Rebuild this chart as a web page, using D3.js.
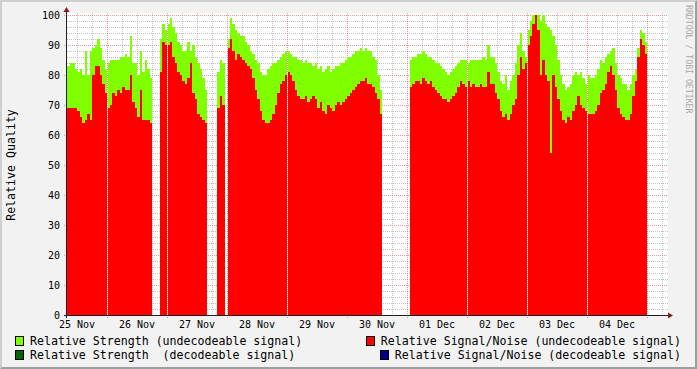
<!DOCTYPE html>
<html>
<head>
<meta charset="utf-8">
<script src="https://cdn.jsdelivr.net/npm/d3@7"></script>
<style>
body { margin: 0; background: #f2f2f2; }
svg { display: block; }
text { font-family: "DejaVu Sans Mono", monospace; white-space: pre; }
</style>
</head>
<body>
<svg id="chart" width="697" height="369"></svg>
<script>
// one sample per hour, starting 25 Nov 08:00 (one row = 12 hours)
var start = new Date(2008, 10, 25, 8, 0);
var stepHours = 1;
var spanHours = 240;

var strength = [
  83, 84, 84, 82, 81, 82, 80, 88, 80, 88, 89, 90,
  92, 89, 85, 82, 84, 85, 85, 85, 85, 86, 86, 87,
  86, 93, 84, 84, 80, 88, 81, 85, 82, 79, null, null,
  null, 92, 97, 95, 97, 99, 96, 94, 91, 90, 88, 88,
  91, 88, 90, 86, 84, 82, 79, 75, null, null, null, null,
  81, 85, 84, null, 92, 99, 97, 95, 94, 93, 93, 91,
  90, 88, 87, 85, 84, 81, 80, 80, 82, 83, 84, 84,
  85, 86, 87, 88, 88, 87, 86, 86, 85, 85, 84, 85,
  84, 84, 83, 84, 82, 83, 81, 82, 83, 81, 82, 83,
  83, 84, 84, 85, 86, 86, 87, 88, 88, 89, 88, 89,
  88, 88, 86, 85, 80, 75, null, null, null, null, null, null,
  null, null, null, null, null, 85, 86, 86, 87, 87, 88, 87,
  86, 86, 85, 84, 84, 83, 82, 81, 80, 81, 82, 83,
  84, 85, 85, 85, 84, 85, 85, 85, 85, 85, 86, 85,
  90, 86, 86, 84, 81, 78, 77, 80, 75, 78, 80, 84,
  90, 94, 88, 86, 95, 98, 100, 100, 100, 98, 100, 97,
  96, 95, 93, 90, 85, 80, 77, 75, 76, 77, 80, 81,
  80, 81, 79, 77, 80, 79, 79, 80, 82, 85, 84, 86,
  87, 88, 89, 84, 80, 79, 77, 77, 75, 77, 80, 82,
  89, 95, 94, 91, null, null, null, null, null, null, null, null
];
var snr = [
  69, 69, 69, 69, 68, 66, 64, 65, 67, 65, 80, 83,
  83, 80, 77, 74, 69, 70, 74, 73, 75, 74, 76, 75,
  75, 80, 71, 69, 66, 75, 65, 65, 65, 64, null, null,
  null, 81, 91, 90, 90, 91, 86, 84, 81, 80, 78, 77,
  79, 84, 74, 72, 67, 66, 65, 64, null, null, null, null,
  69, 73, 70, null, 89, 92, 88, 85, 87, 86, 85, 84,
  83, 82, 79, 75, 72, 68, 65, 64, 64, 65, 67, 70,
  74, 77, 78, 80, 81, 80, 78, 75, 73, 72, 72, 73,
  71, 72, 73, 72, 69, 71, 68, 67, 70, 69, 68, 70,
  71, 70, 71, 72, 73, 74, 75, 76, 77, 78, 78, 79,
  77, 77, 76, 74, 72, 67, null, null, null, null, null, null,
  null, null, null, null, null, 76, 77, 78, 78, 77, 79, 78,
  77, 78, 76, 75, 74, 73, 72, 72, 71, 72, 73, 74,
  76, 78, 77, 76, 78, 76, 77, 76, 76, 77, 76, 76,
  81, 77, 77, 74, 72, 68, 66, 67, 65, 67, 70, 72,
  80, 86, 82, 84, 90, 93, 97, 100, 95, 80, 85, 80,
  78, 54, 80, 76, 72, 68, 65, 64, 66, 65, 68, 70,
  73, 70, 69, 68, 67, 67, 67, 68, 70, 74, 75, 77,
  81, 83, 80, 75, 69, 67, 66, 65, 65, 67, 73, 78,
  86, 92, 90, 87, null, null, null, null, null, null, null, null
];
// decodeable signal: no samples in this period
var strengthDecoded = [];
var snrDecoded = [];

// single missing 24 min samples (show as thin white lines)
var dropouts = ["2008-11-26 00:00", "2008-11-27 00:00", "2008-11-28 00:00", "2008-11-29 00:00",
                "2008-12-02 00:00", "2008-12-03 00:00", "2008-12-04 00:00"];

var series = [
  {name: "Relative Strength (undecodeable signal)", color: "#80ff00", values: strength},
  {name: "Relative Signal/Noise (undecodeable signal)", color: "#ff0000", values: snr},
  {name: "Relative Strength  (decodeable signal)", color: "#006400", values: strengthDecoded},
  {name: "Relative Signal/Noise (decodeable signal)", color: "#00008b", values: snrDecoded}
];

var W = 697, H = 369;
var svg = d3.select("#chart");

var parse = d3.timeParse("%Y-%m-%d %H:%M");
var dropTimes = dropouts.map(function (d) { return +parse(d); });

var x = d3.scaleTime()
        .domain([start, d3.timeHour.offset(start, spanHours)])
        .range([67, 667]);
var y = d3.scaleLinear().domain([0, 100]).range([315, 15]);

// background + 3d frame
svg.append("rect").attr("width", W).attr("height", H).attr("fill", "#f2f2f2");
svg.append("polygon").attr("fill", "#cfcfcf")
        .attr("points", "0,0 " + W + ",0 " + (W - 2) + ",2 2,2 2," + (H - 2) + " 0," + H);
svg.append("polygon").attr("fill", "#9e9e9e")
        .attr("points", W + ",0 " + W + "," + H + " 0," + H + " 2," + (H - 2) + " " + (W - 2) + "," + (H - 2) + " " + (W - 2) + ",2");

// canvas
svg.append("rect").attr("x", 67).attr("y", 13).attr("width", 601).attr("height", 302).attr("fill", "#fff");

// grid (under the data)
var grid = svg.append("g").attr("shape-rendering", "crispEdges").attr("stroke-dasharray", "1,1");
var minorCol = "rgba(143,143,143,0.55)", majorCol = "rgba(222,79,79,0.6)";
y.ticks(50).forEach(function (v) {
    var major = v % 10 === 0;
    if (v === 0) return;
    grid.append("line")
            .attr("x1", major ? 64 : 67).attr("x2", 668)
            .attr("y1", Math.round(y(v)) + 0.5).attr("y2", Math.round(y(v)) + 0.5)
            .attr("stroke", major ? majorCol : minorCol);
});
var t0 = x.domain()[0], t1 = x.domain()[1];
d3.timeHour.every(6).range(t0, t1).forEach(function (t) {
    var major = t.getHours() === 0;
    var px = Math.round(x(t)) + 0.5;
    grid.append("line")
            .attr("x1", px).attr("x2", px)
            .attr("y1", 13).attr("y2", major ? 318 : 315)
            .attr("stroke", major ? majorCol : minorCol);
});

// data: one bar per sample, strength first, signal/noise on top
var plot = svg.append("g").attr("shape-rendering", "crispEdges");
series.forEach(function (s) {
    var pts = [];
    s.values.forEach(function (v, i) {
        if (v == null) return;
        var a = d3.timeHour.offset(start, i * stepHours);
        var b = d3.timeHour.offset(start, (i + 1) * stepHours);
        if (dropTimes.indexOf(+a) >= 0) a = d3.timeMinute.offset(a, 24);
        pts.push({t0: a, t1: b, v: v});
    });
    plot.selectAll(null).data(pts).enter().append("rect")
            .attr("x", function (d) { return x(d.t0); })
            .attr("width", function (d) { return x(d.t1) - x(d.t0); })
            .attr("y", function (d) { return y(d.v); })
            .attr("height", function (d) { return y(0) - y(d.v); })
            .attr("fill", s.color);
});

// axes
svg.append("line").attr("x1", 64).attr("x2", 670).attr("y1", 315.5).attr("y2", 315.5)
        .attr("stroke", "#1f1f1f").attr("shape-rendering", "crispEdges");
svg.append("line").attr("x1", 66.5).attr("x2", 66.5).attr("y1", 318).attr("y2", 10)
        .attr("stroke", "#1f1f1f").attr("shape-rendering", "crispEdges");
svg.append("polygon").attr("fill", "#801f1f").attr("points", "668,312.5 673,315.5 668,318.5");
svg.append("polygon").attr("fill", "#801f1f").attr("points", "63.5,12 66.5,7 69.5,12");

// y tick labels
svg.append("g").selectAll("text").data(y.ticks(10)).enter().append("text")
        .attr("x", 60).attr("y", function (d) { return y(d); })
        .attr("dy", "0.35em").attr("text-anchor", "end")
        .attr("font-size", 10).attr("fill", "#000")
        .text(function (d) { return d; });

// x labels at noon of each day
var fmt = d3.timeFormat("%d %b");
var noons = d3.timeDay.range(d3.timeDay.floor(t0), t1)
        .map(function (d) { return d3.timeHour.offset(d, 12); })
        .filter(function (d) { return d >= t0 && d <= t1; });
svg.append("g").selectAll("text").data(noons).enter().append("text")
        .attr("x", function (d) { return x(d); }).attr("y", 328)
        .attr("text-anchor", "middle").attr("font-size", 10).attr("fill", "#000")
        .text(fmt);

// axis title and watermark
svg.append("text").attr("transform", "translate(15,165) rotate(-90)")
        .attr("text-anchor", "middle").attr("font-size", 11.6).attr("fill", "#000")
        .text("Relative Quality");
svg.append("text").attr("transform", "translate(686,5) rotate(90)")
        .attr("font-size", 8.2).attr("fill", "#a8a8a8")
        .text("RRDTOOL / TOBI OETIKER");

// legend: left column starts at 15, right column ends at 681
var rows = [[series[0], series[1]], [series[2], series[3]]];
rows.forEach(function (row, r) {
    var base = 345 + r * 14;
    row.forEach(function (s, c) {
        var txt = svg.append("text").attr("y", base).attr("font-size", 11.6).attr("fill", "#000").text(s.name);
        var tx = c === 0 ? 30 : 681 - txt.node().getComputedTextLength();
        txt.attr("x", tx);
        svg.append("rect").attr("x", tx - 14.5).attr("y", base - 8.5).attr("width", 8).attr("height", 9)
                .attr("fill", s.color).attr("stroke", "#000").attr("shape-rendering", "crispEdges");
    });
});
</script>
</body>
</html>
